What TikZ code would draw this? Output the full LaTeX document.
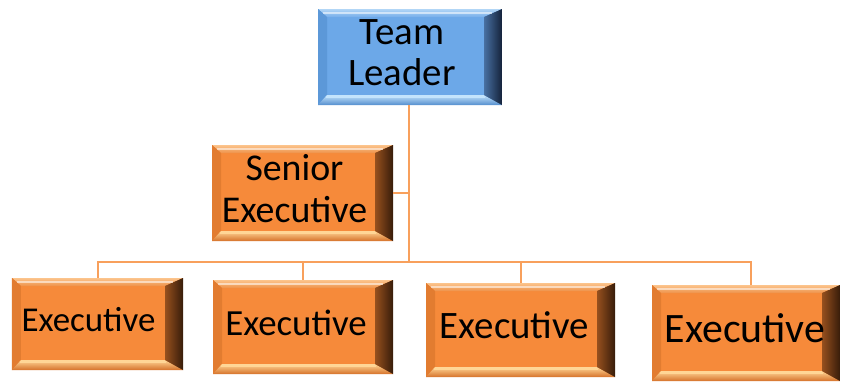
\documentclass[tikz,border=0pt]{standalone}
\usepackage{fontspec}
\setmainfont{Carlito}
\usetikzlibrary{calc}

% palette
\definecolor{orFace}{RGB}{246,138,58}
\definecolor{orTopA}{RGB}{252,196,140}
\definecolor{orTopB}{RGB}{238,146,74}
\definecolor{orLeft}{RGB}{226,124,48}
\definecolor{orBot}{RGB}{214,114,42}
\definecolor{orHi}{RGB}{255,214,150}
\definecolor{orRA}{RGB}{150,80,30}
\definecolor{orRB}{RGB}{55,28,10}
\definecolor{blFace}{RGB}{108,168,232}
\definecolor{blTopA}{RGB}{178,214,246}
\definecolor{blTopB}{RGB}{118,174,234}
\definecolor{blLeft}{RGB}{92,152,216}
\definecolor{blBot}{RGB}{84,142,206}
\definecolor{blHi}{RGB}{196,228,252}
\definecolor{blRA}{RGB}{72,112,162}
\definecolor{blRB}{RGB}{20,34,58}
\definecolor{link}{RGB}{248,160,92}

% label text, pushed left by half of the given kern
\newcommand{\boxlabel}[2][16bp]{\begin{tabular}{@{}c@{}}#2\end{tabular}\kern#1}

\tikzset{
  % bevelled box: face, top A, top B, left, bottom, highlight, right A, right B
  bevelbox/.style n args={8}{
    rectangle, inner sep=0pt, text=black,
    path picture={
      \path let \p1=(path picture bounding box.north west),
                \p2=(path picture bounding box.south east) in
        [fill=#1] (\x1,\y1) rectangle (\x2,\y2);
      \path let \p1=(path picture bounding box.north west),
                \p2=(path picture bounding box.south east) in
        [shade, top color=#2, bottom color=#3]
          (\x1,\y1) -- (\x2,\y1) -- (\x2-18bp,\y1-8bp) -- (\x1+9bp,\y1-8bp) -- cycle;
      \path let \p1=(path picture bounding box.north west),
                \p2=(path picture bounding box.south east) in
        [fill=#4] (\x1,\y1) -- (\x1+9bp,\y1-8bp) -- (\x1+9bp,\y2+10bp) -- (\x1,\y2) -- cycle;
      \path let \p1=(path picture bounding box.north west),
                \p2=(path picture bounding box.south east) in
        [shade, top color=#6, bottom color=#5]
          (\x1,\y2) -- (\x1+9bp,\y2+10bp) -- (\x2-18bp,\y2+10bp) -- (\x2,\y2) -- cycle;
      \path let \p1=(path picture bounding box.north west),
                \p2=(path picture bounding box.south east) in
        [shade, left color=#7, right color=#8]
          (\x2,\y1) -- (\x2,\y2) -- (\x2-18bp,\y2+10bp) -- (\x2-18bp,\y1-8bp) -- cycle;
      \path let \p1=(path picture bounding box.north west),
                \p2=(path picture bounding box.south east) in
        [draw=white, draw opacity=0.55, line width=1.4bp]
          (\x1+5bp,\y1-4bp) -- (\x2-10bp,\y1-4bp);
      \path let \p1=(path picture bounding box.north west),
                \p2=(path picture bounding box.south east) in
        [draw=#6, line width=1.6bp]
          (\x1+8bp,\y2+8bp) -- (\x2-17bp,\y2+8bp);
    }
  },
  orangebox/.style={bevelbox={orFace}{orTopA}{orTopB}{orLeft}{orBot}{orHi}{orRA}{orRB}},
  bluebox/.style={bevelbox={blFace}{blTopA}{blTopB}{blLeft}{blBot}{blHi}{blRA}{blRB}},
  connector/.style={draw=link, line width=2bp}
}

\begin{document}
\begin{tikzpicture}[x=1bp, y=-1bp]
  \useasboundingbox (0,0) rectangle (843,387);

  % boxes
  \node[bluebox, minimum width=184bp, minimum height=96bp,
        font=\fontsize{39}{41}\selectfont] (tl) at (410,57)
        {\boxlabel{Team\\Leader}};
  \node[orangebox, minimum width=181bp, minimum height=96bp,
        font=\fontsize{38}{43}\selectfont] (se) at (302.5,193)
        {\boxlabel{Senior\\Executive}};
  \node[orangebox, minimum width=171bp, minimum height=92bp,
        font=\fontsize{35}{40}\selectfont] (e1) at (97.5,324)
        {\boxlabel[18bp]{Executive}};
  \node[orangebox, minimum width=180bp, minimum height=94bp,
        font=\fontsize{37}{42}\selectfont] (e2) at (303,327)
        {\boxlabel[14bp]{Executive}};
  \node[orangebox, minimum width=189bp, minimum height=94bp,
        font=\fontsize{39}{44}\selectfont] (e3) at (520.5,330)
        {\boxlabel[12bp]{Executive}};
  \node[orangebox, minimum width=188bp, minimum height=96bp,
        font=\fontsize{42}{48}\selectfont] (e4) at (746,333)
        {\boxlabel[2bp]{Executive}};

  % connectors
  \coordinate (bus) at (409,262);
  \coordinate (e4top) at ($(e4.north)+(5,0)$);
  \draw[connector] ([xshift=-1bp]tl.south) -- (bus);
  \draw[connector] (se.east) -- (se.east -| bus);
  \draw[connector] (e1.north) |- (bus);
  \draw[connector] (e4top) |- (bus);
  \draw[connector] (e2.north) -- (e2.north |- bus);
  \draw[connector] (e3.north) -- (e3.north |- bus);
\end{tikzpicture}
\end{document}
